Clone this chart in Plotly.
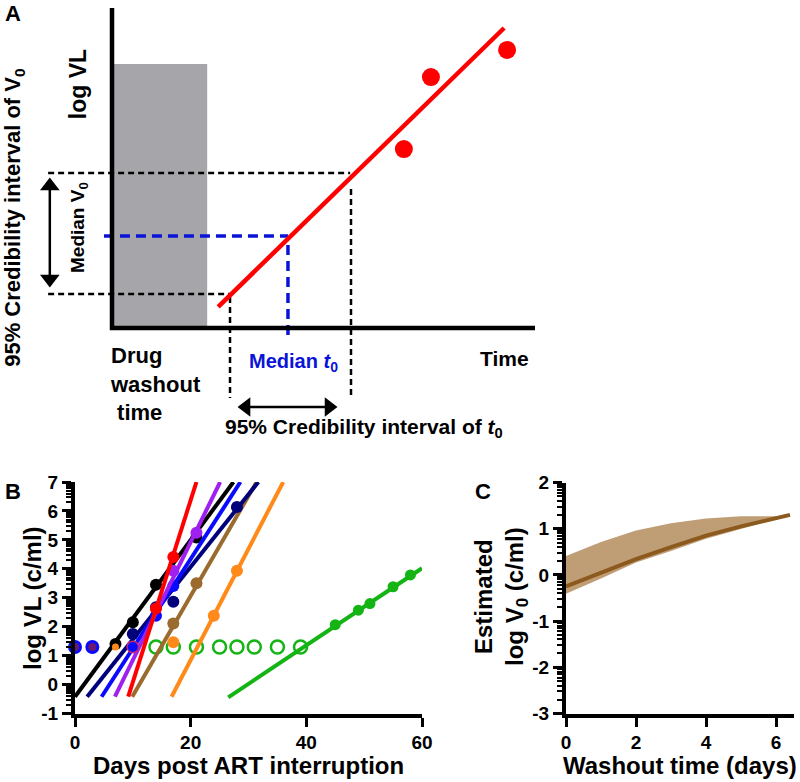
import numpy as np
import plotly.graph_objects as go

FONT = "Liberation Sans, Arial, sans-serif"

# ---------------- Panel A (schematic; arbitrary units, time 0-10, log VL 0-10)
washout_end = 2.25
washout_top = 8.25
fit_t = [2.51, 9.27]
fit_v = [0.66, 9.375]
obs_t = [6.90, 7.54, 9.34]
obs_v = [5.59, 7.84, 8.69]
v0_ci = [1.06, 4.84]
v0_med = 2.875
t0_ci = [2.79, 5.65]
t0_med = 4.16
v0_arrow = [1.28, 4.69]
t0_arrow = [2.98, 5.32]

# ---------------- Panel B (days post ART interruption vs log VL)
black_days = [7, 10, 14, 21]
black_vl = [1.40, 2.15, 3.45, 5.08]
black_fit_x = [0.0, 27.4]
navy_days = [10, 14, 17, 28]
navy_vl = [1.75, 2.67, 2.86, 6.14]
navy_fit_x = [2.1, 31.7]
brown_days = [17, 21]
brown_vl = [2.11, 3.50]
brown_fit_x = [9.9, 31.4]
orange_days = [17, 24, 28]
orange_vl = [1.46, 2.38, 3.93]
orange_fit_x = [16.7, 36.0]
green_days = [45, 49, 51, 55, 58]
green_vl = [2.07, 2.57, 2.80, 3.38, 3.79]
green_fit_x = [26.5, 60.0]
green_fit_y = [-0.44, 4.02]
green_lod_days = [14, 17, 21, 25, 28, 31, 35, 39]
blue_days = [14, 17]
blue_vl = [2.38, 3.41]
blue_fit_x = [4.6, 28.6]
purple_days = [17, 21]
purple_vl = [3.93, 5.25]
purple_fit_x = [6.9, 25.1]
red_days = [14, 17]
red_vl = [2.63, 4.41]
red_fit_x = [9.2, 21.0]
fit_y_steep = [-0.42, 7.0]
lod_vl = 1.3
mixed_lod_days = [0, 3]
orange_lod_days = [7]
red_lod_days = [10]

# ---------------- Panel C
washout_days = [0, 1, 2, 3, 4, 5, 6, 6.4]
c_median = [-0.25, 0.05, 0.34, 0.60, 0.85, 1.05, 1.23, 1.30]
c_upper = [0.41, 0.71, 0.96, 1.12, 1.22, 1.27, 1.27, 1.30]
c_lower = [-0.41, -0.08, 0.27, 0.52, 0.78, 0.99, 1.21, 1.30]

C_BLACK = "#000000"
C_NAVY = "#00007a"
C_BROWN = "#9a6a2e"
C_ORANGE = "#ff8a1a"
C_GREEN = "#14b414"
C_BLUE = "#0a0aff"
C_PURPLE = "#a020f0"
C_RED = "#ff0000"
C_BLUEDASH = "#0a14d8"

fig = go.Figure()

# ===== Panel A =====
XA, YA = "x3", "y3"
def a_line(x, y, line):
    fig.add_trace(go.Scatter(x=x, y=y, mode="lines", line=line, xaxis=XA, yaxis=YA,
                             showlegend=False, hoverinfo="skip"))

fig.add_trace(go.Scatter(x=[0, washout_end, washout_end, 0, 0], y=[0, 0, washout_top, washout_top, 0],
                         fill="toself", fillcolor="#a6a6aa", line=dict(width=0), mode="lines",
                         xaxis=XA, yaxis=YA, showlegend=False, hoverinfo="skip"))
# dashed guides
dash_k = dict(color="black", width=2.5, dash="6px,4px")
a_line([-1.51, t0_ci[1] - 0.02], [v0_ci[1], v0_ci[1]], dash_k)
a_line([-1.51, t0_ci[0]], [v0_ci[0], v0_ci[0]], dash_k)
a_line([t0_ci[1], t0_ci[1]], [v0_ci[1] - 0.5, -2.19], dash_k)
a_line([t0_ci[0], t0_ci[0]], [v0_ci[0] - 0.09, -2.19], dash_k)
dash_b = dict(color=C_BLUEDASH, width=3.5, dash="10px,6px")
a_line([-0.19, t0_med], [v0_med, v0_med], dash_b)
a_line([t0_med, t0_med], [v0_med - 0.28, -0.41], dash_b)
# fit line and observations
a_line(fit_t, fit_v, dict(color=C_RED, width=4.5))
fig.add_trace(go.Scatter(x=obs_t, y=obs_v, mode="markers", marker=dict(color=C_RED, size=18),
                         xaxis=XA, yaxis=YA, showlegend=False, cliponaxis=False))
# axes of schematic
a_line([0, 0, 10], [10, 0, 0], dict(color="black", width=4.5))

# double-headed arrows (line + triangle heads)
arrow_x = -1.47
arrow_y = -2.47
a_line([arrow_x, arrow_x], [v0_arrow[0] + 0.3, v0_arrow[1] - 0.3], dict(color="black", width=2.5))
fig.add_trace(go.Scatter(x=[arrow_x, arrow_x], y=[v0_arrow[1] - 0.25, v0_arrow[0] + 0.25],
                         mode="markers", marker=dict(symbol=["triangle-up", "triangle-down"], size=17,
                                                     color="black"),
                         xaxis=XA, yaxis=YA, showlegend=False, cliponaxis=False))
a_line([t0_arrow[0] + 0.25, t0_arrow[1] - 0.25], [arrow_y, arrow_y], dict(color="black", width=2.5))
fig.add_trace(go.Scatter(x=[t0_arrow[0] + 0.19, t0_arrow[1] - 0.19], y=[arrow_y, arrow_y],
                         mode="markers", marker=dict(symbol=["triangle-left", "triangle-right"], size=17,
                                                     color="black"),
                         xaxis=XA, yaxis=YA, showlegend=False, cliponaxis=False))

# ===== Panel B =====
def fit_line(fx, color):
    fig.add_trace(go.Scatter(x=fx, y=fit_y_steep, mode="lines", line=dict(color=color, width=4),
                             xaxis="x", yaxis="y", showlegend=False))

def pts(dx, dy, color, size=12, line=None, symbol="circle"):
    fig.add_trace(go.Scatter(x=dx, y=dy, mode="markers",
                             marker=dict(color=color, size=size, symbol=symbol,
                                         line=line or dict(width=0)),
                             xaxis="x", yaxis="y", showlegend=False, cliponaxis=False))

fig.add_trace(go.Scatter(x=green_fit_x, y=green_fit_y, mode="lines", line=dict(color=C_GREEN, width=4),
                         showlegend=False))
pts(green_days, green_vl, C_GREEN, size=11)
pts(green_lod_days, [lod_vl] * len(green_lod_days), "rgba(0,0,0,0)", size=13,
    line=dict(color=C_GREEN, width=2.5))
fit_line(orange_fit_x, C_ORANGE)
pts(orange_days, orange_vl, C_ORANGE)
fit_line(brown_fit_x, C_BROWN)
pts(brown_days, brown_vl, C_BROWN)
fit_line(black_fit_x, C_BLACK)
pts(black_days, black_vl, C_BLACK)
fit_line(navy_fit_x, C_NAVY)
pts(navy_days, navy_vl, C_NAVY)
fit_line(blue_fit_x, C_BLUE)
pts(blue_days, blue_vl, C_BLUE)
fit_line(purple_fit_x, C_PURPLE)
pts(purple_days, purple_vl, C_PURPLE)
fit_line(red_fit_x, C_RED)
pts(red_days, red_vl, C_RED)
# overlapping undetectable points at limit of detection
pts(mixed_lod_days, [lod_vl] * len(mixed_lod_days), C_BLUE, size=14)
pts(mixed_lod_days, [lod_vl] * len(mixed_lod_days), "#6a1a6e", size=8)
pts(orange_lod_days, [lod_vl] * len(orange_lod_days), C_ORANGE, size=7)
pts(red_lod_days, [lod_vl] * len(red_lod_days), "#c8286e", size=13)
pts(red_lod_days, [lod_vl] * len(red_lod_days), C_BLUE, size=10)

# ===== Panel C =====
fig.add_trace(go.Scatter(x=washout_days + washout_days[::-1], y=c_upper + c_lower[::-1],
                         fill="toself", fillcolor="#bf9d75", line=dict(width=0), mode="lines",
                         xaxis="x2", yaxis="y2", showlegend=False))
fig.add_trace(go.Scatter(x=washout_days, y=c_median, mode="lines", line=dict(color="#8c5a1e", width=4),
                         xaxis="x2", yaxis="y2", showlegend=False))

# ===== Layout =====
W, H = 800, 782
def px_x(p):
    return p / W
def px_y(p):
    return 1 - p / H

tickfont = dict(family=FONT, size=19, color="black", weight="bold")
def log_minor(lo, hi):
    vals = []
    for n in range(lo, hi):
        for k in range(2, 10):
            vals.append(n + np.log10(k))
    return vals

axis_common = dict(showline=True, linewidth=4, linecolor="black", ticks="outside", ticklen=9,
                   tickwidth=3, tickcolor="black", showgrid=False, zeroline=False,
                   tickfont=tickfont, fixedrange=True, automargin=False)

fig.update_layout(
    template="none",
    width=W, height=H, margin=dict(l=0, r=0, t=0, b=0, pad=0, autoexpand=False),
    paper_bgcolor="white", plot_bgcolor="white",
    font=dict(family=FONT, color="black"),
    showlegend=False,
    xaxis=dict(domain=[px_x(75), px_x(422)], range=[0, 60], tickvals=[0, 20, 40, 60],
               ticktext=["0", "20", "40", "60"], anchor="y", **axis_common),
    yaxis=dict(domain=[px_y(713.5), px_y(482)], range=[-1, 7], tickvals=list(range(-1, 8)),
               ticktext=["-1", "0", "1", "2", "3", "4", "5", "6", "7"], anchor="x",
               minor=dict(tickvals=log_minor(-1, 7), ticklen=5, tickwidth=2, tickcolor="black",
                          ticks="outside"),
               **axis_common),
    xaxis2=dict(domain=[px_x(566), px_x(793.5)], range=[0, 6.5], tickvals=[0, 2, 4, 6],
                ticktext=["0", "2", "4", "6"], anchor="y2", **axis_common),
    yaxis2=dict(domain=[px_y(713.5), px_y(482.5)], range=[-3, 2], tickvals=list(range(-3, 3)),
                ticktext=["-3", "-2", "-1", "0", "1", "2"], anchor="x2",
                minor=dict(tickvals=log_minor(-3, 2), ticklen=5, tickwidth=2, tickcolor="black",
                           ticks="outside"),
                **axis_common),
    xaxis3=dict(domain=[px_x(6.25), px_x(535)], range=[-2.5, 10], visible=False, anchor="y3",
                fixedrange=True, automargin=False),
    yaxis3=dict(domain=[px_y(440), px_y(8)], range=[-3.5, 10], visible=False, anchor="x3",
                fixedrange=True, automargin=False),
)

def txt(text, x, y, size, xref="paper", yref="paper", angle=0, color="black", xanchor="center",
        yanchor="middle", align="center"):
    fig.add_annotation(text=text, x=x, y=y, xref=xref, yref=yref, showarrow=False, textangle=angle,
                       font=dict(family=FONT, size=size, color=color, weight="bold"),
                       xanchor=xanchor, yanchor=yanchor, align=align)

# panel letters
txt("A", px_x(13), px_y(13), 22)
txt("B", px_x(13), px_y(491), 22)
txt("C", px_x(483), px_y(491), 22)

# panel A labels
txt("log VL", -0.80, 7.625, 23, XA, YA, angle=-90)
txt("95% Credibility interval of V<sub>0</sub>", -2.32, 3.44, 22, XA, YA, angle=-90)
txt("Median V<sub>0</sub>", -0.78, 3.125, 19, XA, YA, angle=-90)
txt("Drug<br>washout<br> time", -0.095, -1.75, 22, XA, YA, xanchor="left", align="left")
txt("Median <i>t</i><sub>0</sub>", t0_med + 0.12, -1.09, 20, XA, YA, color=C_BLUEDASH)
txt("Time", 9.29, -0.94, 21, XA, YA)
txt("95% Credibility interval of <i>t</i><sub>0</sub>", 5.96, -3.125, 21, XA, YA)

# axis titles B and C
txt("log VL (c/ml)", px_x(32), px_y(598), 24, angle=-90)
txt("Days post ART interruption", px_x(248), px_y(765), 24)
txt("Estimated<br>log V<sub>0</sub> (c/ml)", px_x(501), px_y(597), 24, angle=-90)
txt("Washout time (days)", px_x(680), px_y(765), 24)

fig.write_html(
    "out.html",
    config={"displayModeBar": False, "staticPlot": True},
    post_script=("document.body.style.margin='0';document.body.style.overflow='hidden';"
                 "var gd=document.getElementById('{plot_id}');gd.style.position='fixed';"
                 "gd.style.left='0px';gd.style.top='0px';"),
)
